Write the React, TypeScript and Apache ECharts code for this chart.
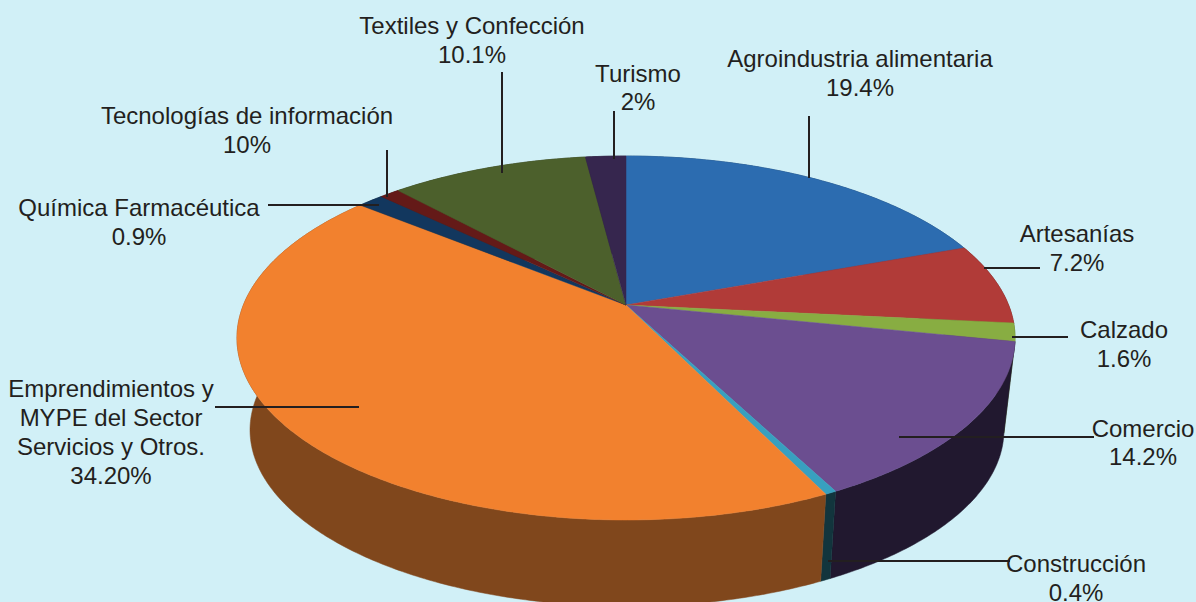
import React, { useEffect, useRef } from "react";
import * as echarts from "echarts";

// Slice names in clockwise order from 12 o'clock
const categories = [
  "Agroindustria alimentaria", "Artesanías", "Calzado", "Comercio", "Construcción",
  "Emprendimientos y MYPE del Sector Servicios y Otros.", "Química Farmacéutica",
  "Tecnologías de información", "Textiles y Confección", "Turismo",
];
// Printed label values
const printedLabels = ["19.4%", "7.2%", "1.6%", "14.2%", "0.4%", "34.20%", "0.9%", "10%", "10.1%", "2%"];
// Slice sizes as drawn in the picture (they differ from the printed labels)
const sliceValues = [19.4, 7.2, 1.6, 14.2, 0.4, 43.1, 1.3, 1.0, 9.8, 2.0];
const topColors = ["#2c6cb0", "#b13b38", "#88ad42", "#6b4e90", "#38a0bf", "#f2812e", "#12375e", "#641a18", "#4c602c", "#36264e"];
const sideColors = ["#163a60", "#5e1f1e", "#48601f", "#21182f", "#12353d", "#80471c", "#0a1f35", "#350e0d", "#283316", "#1c1429"];

const FONT = "'Liberation Sans', Arial, sans-serif";
const TEXT = "#231f20";
const BG = "#d1f0f7";

// Perspective model of the disc
const APEX_X = 626, APEX_Y = 305, DIST = 5.515, FX = 2110, FY = 970.7;
const BOTTOM_X = 627, BOTTOM_Y = 398, BOTTOM_SCALE = 0.969;

function top(theta: number): [number, number] {
  const u = Math.sin(theta), v = Math.cos(theta), w = DIST + v;
  return [APEX_X + (FX * u) / w, APEX_Y - (FY * v) / w];
}
function bottom(theta: number): [number, number] {
  const [x, y] = top(theta);
  return [BOTTOM_X + (x - APEX_X) * BOTTOM_SCALE, BOTTOM_Y + (y - APEX_Y) * BOTTOM_SCALE];
}
function arc(a: number, b: number, fn: (t: number) => [number, number]) {
  const n = Math.max(2, Math.ceil((b - a) / 0.01));
  const pts: [number, number][] = [];
  for (let i = 0; i <= n; i++) pts.push(fn(a + ((b - a) * i) / n));
  return pts;
}

const total = sliceValues.reduce((s, v) => s + v, 0);
let running = 0;
const sliceData = sliceValues.map((v, i) => {
  const start = (running / total) * Math.PI * 2;
  running += v;
  return { name: categories[i], value: [start, (running / total) * Math.PI * 2, i] };
});

// Label layout: text lines, anchor, and leader segment
const labelLines = [
  ["Agroindustria alimentaria", printedLabels[0]],
  ["Artesanías", printedLabels[1]],
  ["Calzado", printedLabels[2]],
  ["Comercio", printedLabels[3]],
  ["Construcción", printedLabels[4]],
  ["Emprendimientos y", "MYPE del Sector", "Servicios y Otros.", printedLabels[5]],
  ["Química Farmacéutica", printedLabels[6]],
  ["Tecnologías de información", printedLabels[7]],
  ["Textiles y Confección", printedLabels[8]],
  ["Turismo", printedLabels[9]],
];
const labelCenters = [
  [860, 58], [1077, 233], [1124, 329], [1143, 428], [1076, 563],
  [111, 388], [139, 207], [247, 115], [472, 25], [638, 73],
];
const LINE_STEPS = [[29], [29], [29], [28], [29], [29, 29, 29], [29], [29], [29], [28]];
const leaders = [
  [809, 116, 809, 178], [984, 268, 1040, 268], [1012, 337, 1068, 337], [899, 437, 1094, 437], [828, 561, 1010, 561],
  [215, 407, 359, 407], [268, 205, 379, 205], [387, 150, 387, 197], [502, 72, 502, 173], [614, 111, 614, 159],
];

export default function App() {
  const ref = useRef<HTMLDivElement>(null);
  useEffect(() => {
    document.body.style.margin = "0";
    document.body.style.background = BG;
    const chart = echarts.init(ref.current!, null, { renderer: "svg" });
    const graphics: any[] = [];
    leaders.forEach((l) => {
      graphics.push({
        type: "line", z: 10, silent: true,
        shape: { x1: l[0], y1: l[1], x2: l[2], y2: l[3] },
        style: { stroke: TEXT, lineWidth: 2 },
      });
    });
    labelLines.forEach((lines, i) => {
      let y = labelCenters[i][1];
      lines.forEach((t, j) => {
        graphics.push({
          type: "text", z: 11, silent: true, x: labelCenters[i][0], y,
          style: { text: t, fill: TEXT, font: `24px ${FONT}`, align: "center", verticalAlign: "middle" },
        });
        y += (LINE_STEPS[i][j] ?? 29);
      });
    });
    chart.setOption({
      animation: false,
      backgroundColor: BG,
      graphic: graphics,
      series: [
        {
          type: "custom", coordinateSystem: "none", z: 1, silent: true,
          data: sliceData,
          renderItem: (_p: any, api: any) => {
            const a = api.value(0), b = api.value(1), i = api.value(2);
            const pts = [...arc(a, b, top), ...arc(a, b, bottom).reverse()];
            return { type: "polygon", shape: { points: pts }, style: { fill: sideColors[i], stroke: sideColors[i], lineWidth: 0.5 } };
          },
        },
        {
          type: "custom", coordinateSystem: "none", z: 2, silent: true,
          data: sliceData,
          renderItem: (_p: any, api: any) => {
            const a = api.value(0), b = api.value(1), i = api.value(2);
            const pts = [[APEX_X, APEX_Y], ...arc(a, b, top)];
            return { type: "polygon", shape: { points: pts }, style: { fill: topColors[i], stroke: topColors[i], lineWidth: 0.5 } };
          },
        },
      ],
    });
    return () => chart.dispose();
  }, []);
  return <div ref={ref} style={{ width: 1196, height: 602 }} />;
}
